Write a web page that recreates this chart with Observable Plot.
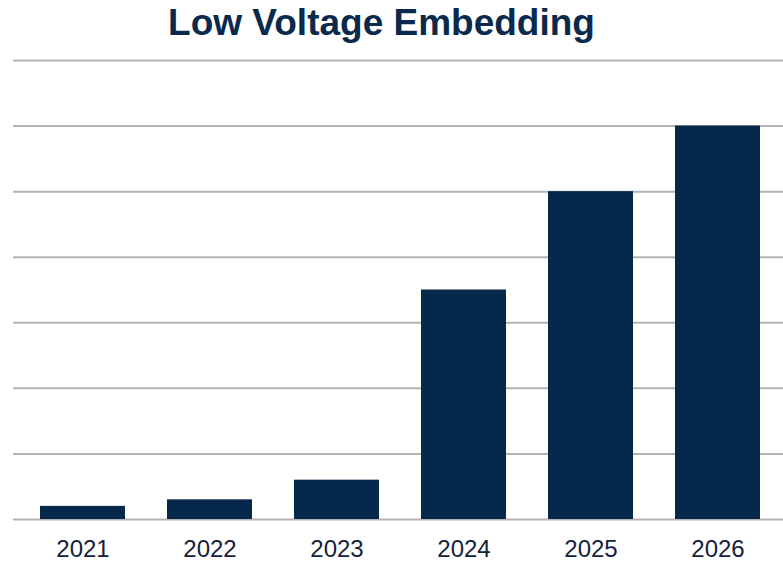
<!DOCTYPE html>
<html>
<head>
<meta charset="utf-8">
<script src="https://cdn.jsdelivr.net/npm/d3@7"></script>
<script src="https://cdn.jsdelivr.net/npm/@observablehq/plot@0.6"></script>
<style>
  html, body { margin: 0; padding: 0; background: #fff; }
  #wrap { width: 783px; height: 562px; overflow: hidden; font-family: "Liberation Sans", Arial, sans-serif; }
  #title { height: 40px; padding-top: 4px; width: 783px; font-size: 37px; line-height: 37px; font-weight: bold; color: #0a2a4d; text-align: center; }
  #title span { position: relative; left: -10px; }
</style>
</head>
<body>
<div id="wrap">
  <div id="title"><span>Low Voltage Embedding</span></div>
  <div id="chart"></div>
</div>
<script>
const years = ["2021", "2022", "2023", "2024", "2025", "2026"];
const values = [0.2, 0.3, 0.6, 3.5, 5.0, 6.0];
const gridTicks = [0, 1, 2, 3, 4, 5, 6, 7];

const data = years.map((year, i) => ({year, value: values[i]}));

const chart = Plot.plot({
  width: 783,
  height: 518,
  marginLeft: 13,
  marginRight: 0,
  marginTop: 0,
  marginBottom: 43,
  style: {fontFamily: '"Liberation Sans", Arial, sans-serif', color: "#14213a", background: "#fff", overflow: "visible"},
  x: {type: "band", domain: years, range: [19, 781], paddingInner: 0.33, paddingOuter: 0.165, axis: null, label: null},
  y: {domain: [0, 7], range: [475, 16], axis: null},
  marks: [
    Plot.ruleY(gridTicks, {stroke: "#b3b3b3", strokeWidth: 2}),
    Plot.barY(data, {x: "year", y: "value", fill: "#06294b"}),
    Plot.axisX({tickSize: 0, tickPadding: 20, fontSize: 24, fill: "#14213a", label: null})
  ]
});
document.getElementById("chart").appendChild(chart);
</script>
</body>
</html>
